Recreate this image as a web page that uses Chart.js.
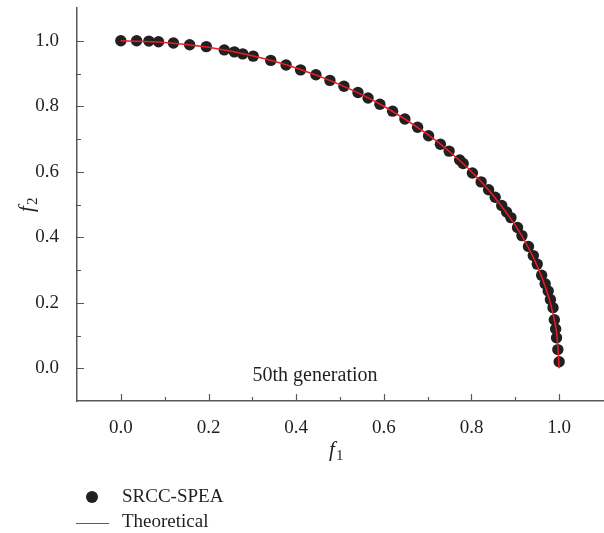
<!DOCTYPE html>
<html>
<head>
<meta charset="utf-8">
<script src="https://cdn.jsdelivr.net/npm/chart.js@4.4.1/dist/chart.umd.min.js"></script>
<style>
  body { margin: 0; background: #fff; }
  #wrap { position: relative; width: 604px; height: 533px; }
  #legend { position: absolute; left: 0; top: 0; width: 604px; height: 533px; pointer-events: none;
            font-family: "Liberation Serif", "DejaVu Serif", serif; font-size: 19px; color: #231f20; }
  .item { position: absolute; white-space: nowrap; line-height: 20px; }
</style>
</head>
<body>
<div id="wrap">
  <canvas id="chart" width="604" height="533"></canvas>
  <div id="legend"></div>
</div>
<script>
// SRCC-SPEA points
const f1Points = [0.0, 0.036, 0.064, 0.086, 0.12, 0.157, 0.195, 0.236, 0.259, 0.278, 0.302,
  0.342, 0.377, 0.41, 0.445, 0.477, 0.509, 0.541, 0.564, 0.591, 0.62, 0.648, 0.677, 0.702,
  0.729, 0.749, 0.773, 0.781, 0.802, 0.822, 0.839, 0.854, 0.869, 0.88, 0.89, 0.905, 0.915,
  0.93, 0.941, 0.95, 0.96, 0.968, 0.975, 0.98, 0.986, 0.989, 0.992, 0.994, 0.997, 1.0]
const f2Points = [1.0, 1.0, 0.999, 0.997, 0.993, 0.988, 0.982, 0.972, 0.966, 0.96, 0.953,
  0.94, 0.926, 0.911, 0.896, 0.879, 0.861, 0.842, 0.825, 0.806, 0.785, 0.761, 0.736, 0.71,
  0.684, 0.663, 0.636, 0.625, 0.596, 0.569, 0.545, 0.522, 0.497, 0.477, 0.46, 0.43, 0.405,
  0.372, 0.344, 0.318, 0.284, 0.258, 0.236, 0.21, 0.185, 0.148, 0.12, 0.093, 0.057, 0.02]

// Theoretical front
const f1Theory = [0.0, 0.1, 0.2, 0.3, 0.4, 0.5, 0.6, 0.7, 0.75, 0.8, 0.85, 0.9, 0.93, 0.95,
  0.97, 0.98, 0.99, 0.995, 1.0]
const f2Theory = [1.0, 0.995, 0.98, 0.954, 0.917, 0.866, 0.8, 0.714, 0.661, 0.6, 0.527, 0.436,
  0.368, 0.312, 0.243, 0.199, 0.141, 0.1, 0.0]

const xTickValues = [0.0, 0.2, 0.4, 0.6, 0.8, 1.0]
const yTickValues = [0.0, 0.2, 0.4, 0.6, 0.8, 1.0]
const minorTickValues = [0.1, 0.3, 0.5, 0.7, 0.9]

const ink = '#231f20'
const axisColor = '#58595b'
const redLine = '#ed1c24'
const serif = '"Liberation Serif", "DejaVu Serif", serif'

/*Inward ticks, axis titles, the note and legend marks*/
const extras = {
  id: 'extras',
  afterDraw(chart) {
    const ctx = chart.ctx
    const xs = chart.scales.x
    const ys = chart.scales.y
    const bottom = chart.chartArea.bottom
    const left = chart.chartArea.left
    ctx.save()
    ctx.strokeStyle = axisColor
    ctx.lineWidth = 1.2
    ctx.beginPath()
    for (const v of xTickValues) {
      const px = Math.round(xs.getPixelForValue(v)) + 0.5
      ctx.moveTo(px, bottom); ctx.lineTo(px, bottom - 7)
    }
    for (const v of minorTickValues) {
      const px = Math.round(xs.getPixelForValue(v)) + 0.5
      ctx.moveTo(px, bottom); ctx.lineTo(px, bottom - 4)
    }
    for (const v of yTickValues) {
      const py = Math.round(ys.getPixelForValue(v)) + 0.5
      ctx.moveTo(left, py); ctx.lineTo(left + 7, py)
    }
    for (const v of minorTickValues) {
      const py = Math.round(ys.getPixelForValue(v)) + 0.5
      ctx.moveTo(left, py); ctx.lineTo(left + 4, py)
    }
    ctx.stroke()

    // legend marks, coloured like the datasets
    const sets = chart.data.datasets
    ctx.fillStyle = sets[0].backgroundColor
    ctx.beginPath()
    ctx.arc(92, 497, 6, 0, Math.PI * 2)
    ctx.fill()
    ctx.strokeStyle = sets[1].borderColor
    ctx.lineWidth = 1.2
    ctx.beginPath()
    ctx.moveTo(76, 523.5); ctx.lineTo(109, 523.5)
    ctx.stroke()

    ctx.fillStyle = ink
    // note inside the plot
    ctx.font = '20px ' + serif
    ctx.textAlign = 'center'
    ctx.textBaseline = 'alphabetic'
    ctx.fillText('50th generation', xs.getPixelForValue(0.443), ys.getPixelForValue(-0.038))

    // x title: f1
    ctx.textAlign = 'left'
    ctx.font = 'italic 21px ' + serif
    ctx.fillText('f', 329, 456)
    ctx.font = '15px ' + serif
    ctx.fillText('1', 336, 460)

    // y title: f2, rotated
    ctx.translate(33, 212)
    ctx.rotate(-Math.PI / 2)
    ctx.font = 'italic 21px ' + serif
    ctx.fillText('f', 0, 0)
    ctx.font = '15px ' + serif
    ctx.fillText('2', 7, 4)
    ctx.restore()
  }
}

const ctx = document.getElementById('chart').getContext('2d')
const myChart = new Chart(ctx, {
  type: 'scatter',
  data: {
    datasets: [
      {
        label: 'SRCC-SPEA',
        data: f1Points.map((x, i) => ({x: x, y: f2Points[i]})),
        backgroundColor: ink,
        borderColor: ink,
        borderWidth: 0,
        pointRadius: 5.7,
        order: 2
      },
      {
        label: 'Theoretical',
        data: f1Theory.map((x, i) => ({x: x, y: f2Theory[i]})),
        showLine: true,
        borderColor: redLine,
        borderWidth: 1.5,
        pointRadius: 0,
        cubicInterpolationMode: 'monotone',
        order: 1
      }
    ]
  },
  options: {
    responsive: false,
    animation: false,
    layout: { autoPadding: false, padding: { top: 8, right: 1, left: 0, bottom: 0 } },
    plugins: { legend: { display: false }, tooltip: { enabled: false } },
    scales: {
      x: {
        type: 'linear', min: -0.1, max: 1.1,
        grid: { display: false },
        border: { display: true, color: axisColor, width: 1.5 },
        afterBuildTicks: s => { s.ticks = xTickValues.map(v => ({value: v})) },
        afterFit: s => { s.height = 132; s.paddingLeft = 0; s.paddingRight = 0 },
        ticks: { color: ink, padding: 8, font: { family: serif, size: 19 },
                 callback: v => Number(v).toFixed(1), maxRotation: 0 }
      },
      y: {
        type: 'linear', min: -0.1, max: 1.1,
        grid: { display: false },
        border: { display: true, color: axisColor, width: 1.5 },
        afterBuildTicks: s => { s.ticks = yTickValues.map(v => ({value: v})) },
        afterFit: s => { s.width = 77; s.paddingTop = 0; s.paddingBottom = 0 },
        ticks: { color: ink, padding: 10, font: { family: serif, size: 19 },
                 callback: v => Number(v).toFixed(1) }
      }
    }
  },
  plugins: [extras]
})

/*Legend labels under the plot*/
const legend = document.getElementById('legend')
legend.insertAdjacentHTML('beforeend', `
  <div class="item" style="left:122px;top:486px">${myChart.data.datasets[0].label}</div>
  <div class="item" style="left:122px;top:511px">${myChart.data.datasets[1].label}</div>
`)
</script>
</body>
</html>
